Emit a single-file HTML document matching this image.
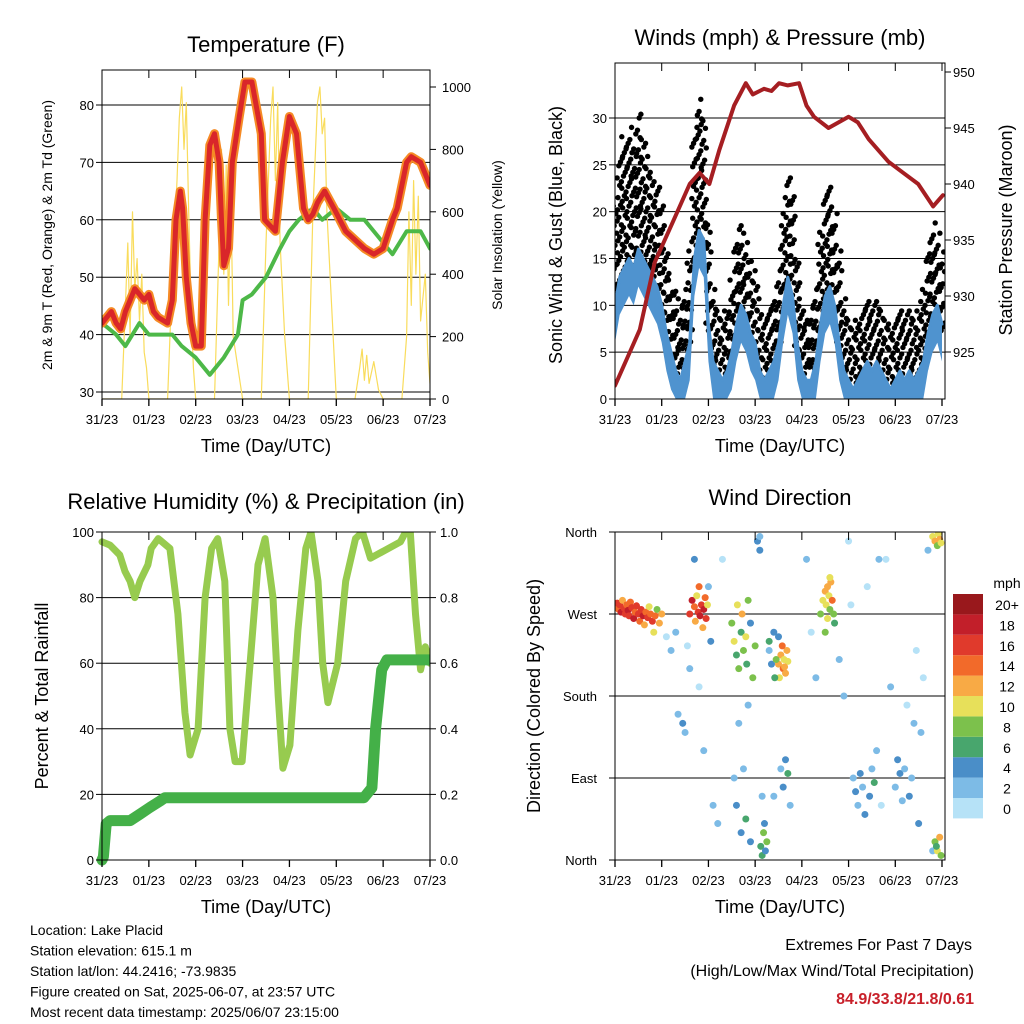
<!DOCTYPE html>
<html><head><meta charset="utf-8"><style>
body{margin:0;background:#fff}
svg{display:block;font-family:"Liberation Sans",Arial,sans-serif}
</style></head><body>
<svg id="s" width="1024" height="1024" viewBox="0 0 1024 1024"></svg>
<script>
// ---- data ----
const dayLabels=["31/23","01/23","02/23","03/23","04/23","05/23","06/23","07/23"];
const tempT=[0,0.1,0.2,0.3,0.4,0.5,0.6,0.7,0.8,0.9,1.0,1.1,1.2,1.4,1.45,1.5,1.58,1.67,1.72,1.8,1.9,2.0,2.07,2.12,2.2,2.3,2.4,2.5,2.55,2.6,2.7,2.78,2.93,3.05,3.2,3.4,3.47,3.7,3.85,4.0,4.15,4.3,4.4,4.5,4.6,4.75,4.95,5.2,5.6,5.8,6.0,6.2,6.3,6.5,6.6,6.8,6.9,7.0];
const tempV=[42,43,44,42,41,44,46,48,47,46,47,44,43,42,44,46,60,65,62,50,42,38,38,38,60,73,75,70,60,52,55,70,78,84,84,75,60,58,70,78,75,62,60,61,63,65,62,58,55,54,55,60,62,70,71,70,68,66];
const dewT=[0,0.3,0.5,0.8,1.0,1.5,1.7,2.0,2.3,2.6,2.9,3.0,3.2,3.5,3.8,4.0,4.2,4.5,4.7,5.0,5.3,5.6,5.9,6.1,6.2,6.5,6.8,7.0];
const dewV=[42,40,38,42,40,40,38,36,33,36,40,46,47,50,55,58,60,62,60,62,60,60,57,55,54,58,58,55];
const solarT=[0,0.42,0.5,0.55,0.6,0.65,0.7,0.75,0.8,0.85,0.9,0.95,1.0,1.4,1.5,1.6,1.65,1.7,1.75,1.8,1.85,1.9,1.95,2.0,2.4,2.5,2.55,2.6,2.65,2.7,2.75,2.8,2.9,3.0,3.4,3.5,3.6,3.65,3.7,3.75,3.8,3.9,4.0,4.4,4.5,4.6,4.65,4.7,4.75,4.8,4.9,5.0,5.4,5.5,5.55,5.6,5.65,5.7,5.8,5.9,6.0,6.4,6.5,6.55,6.6,6.65,6.7,6.75,6.8,6.9,6.95,7.0];
const solarV=[0,0,300,500,200,600,350,450,250,400,150,100,0,0,400,700,900,1000,800,950,600,300,100,0,0,500,800,400,750,300,650,200,100,0,0,500,900,1000,700,950,500,200,0,0,600,950,1000,850,900,600,300,0,0,100,160,60,140,50,120,30,0,0,200,600,300,700,400,650,250,400,150,50];
const windT=[];for(let i=0;i<=70;i++)windT.push(i/10);
const windV=[10,13,14,15,14,16,15,14,13,12,10,7,5,3,2,4,6,15,18,17,8,4,3,2,3,5,8,10,9,7,6,3,2,3,4,6,10,13,11,6,3,2,2,4,8,11,12,10,6,3,2,1,2,3,4,3,4,3,2,1,2,3,2,3,2,3,4,7,9,10,8];
const gustV=[17,22,24,25,23,27,24,22,20,19,17,12,9,8,6,8,12,25,28,26,15,8,6,5,6,9,13,15,13,11,10,7,5,6,7,10,16,20,18,11,7,5,6,8,14,18,19,16,12,7,5,4,5,6,7,6,7,6,5,4,5,6,5,6,5,6,8,12,15,14,12];
const presT=[0,0.32,0.53,0.85,1.28,1.6,1.81,2.02,2.23,2.55,2.8,2.95,3.19,3.35,3.51,3.7,3.94,4.1,4.26,4.57,5.0,5.2,5.43,5.85,6.17,6.49,6.81,7.02];
const presV=[922,925,927,933,937,940,941,940,943,947,949,948,948.5,948.3,949,948.8,949,947,946,945,946,945.5,944,942,941,940,938,939];
const rhT=[0,0.17,0.38,0.49,0.6,0.7,0.81,0.98,1.05,1.2,1.45,1.62,1.77,1.88,2.05,2.2,2.34,2.47,2.62,2.73,2.84,2.99,3.16,3.33,3.48,3.65,3.76,3.86,4.01,4.18,4.35,4.46,4.61,4.71,4.82,5.03,5.2,5.41,5.56,5.73,6.37,6.48,6.58,6.69,6.8];
const rhV=[97,96,93,88,85,80,85,90,95,98,95,75,45,32,40,80,95,98,85,40,30,30,60,90,98,80,50,28,35,70,95,100,85,60,48,60,85,98,100,92,97,100,100,75,58];
const rhT2=[6.9,7.0];const rhV2=[65,60];
const rainT=[0,0.03,0.09,0.17,0.6,0.81,1.02,1.24,1.34,5.59,5.76,5.84,5.97,6.08,7.0];
const rainV=[0,0.01,0.11,0.12,0.12,0.14,0.16,0.18,0.19,0.19,0.22,0.40,0.58,0.61,0.61];
const dirT=[0.02,0.05,0.08,0.1,0.13,0.16,0.2,0.22,0.25,0.28,0.3,0.33,0.36,0.4,0.43,0.46,0.5,0.53,0.56,0.6,0.63,0.66,0.7,0.73,0.76,0.8,0.83,0.86,0.9,0.95,1.0,
1.6,1.65,1.7,1.72,1.75,1.78,1.8,1.82,1.85,1.88,1.9,1.93,1.95,1.98,
1.1,1.2,1.3,1.35,1.45,1.5,1.55,1.6,1.7,1.8,1.9,2.0,2.05,2.1,2.2,2.3,
2.5,2.55,2.6,2.62,2.65,2.7,2.72,2.75,2.8,2.82,2.85,2.9,2.95,3.0,
2.55,2.6,2.65,2.7,2.75,2.8,2.85,2.9,3.05,3.1,3.12,3.15,3.18,3.2,3.22,3.25,3.1,3.15,
3.5,3.55,3.6,3.62,3.65,3.68,3.7,3.58,3.52,3.63,
3.3,3.35,3.4,3.42,3.45,3.5,3.55,3.6,3.65,3.7,3.75,3.3,3.4,
4.4,4.45,4.5,4.52,4.55,4.58,4.6,4.62,4.65,4.68,4.7,4.5,4.55,4.6,
4.1,4.2,4.3,4.8,4.9,5.0,5.1,5.15,5.2,5.25,5.3,5.4,5.45,5.5,5.55,5.6,5.7,5.8,5.9,6.0,6.05,6.1,6.15,6.2,6.25,6.3,6.35,6.4,6.5,6.6,6.7,6.8,5.05,5.35,5.65,6.45,6.55,
6.8,6.85,6.9,6.92,6.95,6.98,6.85,6.9,6.95,6.98,6.88];
const dirV=[278,282,275,280,272,285,276,270,280,274,268,283,277,265,272,279,270,262,275,268,258,272,266,278,270,262,250,268,275,260,270,
270,285,278,262,290,272,300,268,280,255,275,288,265,280,
245,230,250,160,150,140,235,210,330,190,120,300,240,60,40,330,
260,240,225,280,210,250,270,230,245,215,285,260,200,235,
90,60,150,30,100,45,170,20,350,340,15,5,30,40,10,20,355,70,
215,225,210,220,205,230,218,235,200,212,
230,215,250,200,220,245,100,80,110,95,60,240,70,
270,285,295,280,300,290,275,305,285,270,260,250,265,310,
330,250,200,220,180,350,90,75,60,95,80,300,70,100,85,120,60,330,190,80,110,95,65,100,170,70,90,150,40,200,340,10,280,50,330,230,140,
355,350,345,358,352,348,20,10,25,5,15];
const dirS=[14,16,15,17,18,13,16,17,15,18,16,14,17,19,15,16,17,14,16,18,12,15,17,10,14,16,11,15,9,13,12,
16,18,15,12,10,17,14,19,16,13,18,15,17,11,
1,2,3,3,4,2,1,2,5,1,3,2,4,3,2,1,
8,10,7,11,9,6,12,8,10,7,9,5,8,9,
3,4,2,5,3,6,2,4,5,4,7,6,8,5,4,9,3,2,
12,13,14,11,13,12,10,15,11,13,
3,5,4,6,8,4,3,5,4,6,2,7,3,
9,11,12,10,13,11,8,12,14,9,7,8,10,11,
2,1,3,3,2,1,3,4,2,5,3,1,4,3,6,2,1,1,2,3,4,5,3,2,1,4,3,2,4,1,2,3,1,5,2,1,3,
10,12,9,11,13,10,8,10,12,9,7];
const spdColors=["#b6e2f7","#7dbbe6","#4a8ec8","#48a66d","#7cc14c","#e7e05a","#f8aa45","#f26a2a","#e03a2c","#c21f2a","#99181c"];
const spdLabels=["0","2","4","6","8","10","12","14","16","18","20+"];

// ---- helpers ----
const NS="http://www.w3.org/2000/svg",S=document.getElementById('s');
function el(tag,a,p){const e=document.createElementNS(NS,tag);for(const k in a)e.setAttribute(k,a[k]);(p||S).appendChild(e);return e;}
function txt(x,y,s,size,anchor,name,extra){const t=el('text',Object.assign({x:x,y:y,'font-size':size,'text-anchor':anchor||'middle',fill:'#000'},extra||{}));t.textContent=s;

return t;}
function lin(d0,d1,r0,r1){return v=>r0+(v-d0)/(d1-d0)*(r1-r0);}
function poly(xs,ys,fx,fy,attrs,name){const pts=xs.map((t,i)=>fx(t).toFixed(1)+','+fy(ys[i]).toFixed(1)).join(' ');
const p=el('polyline',Object.assign({points:pts,fill:'none','stroke-linejoin':'round','stroke-linecap':'round'},attrs));

return p;}
function frame(x0,y0,x1,y1,name){const r=el('rect',{x:x0,y:y0,width:x1-x0,height:y1-y0,fill:'none',stroke:'#000','stroke-width':1});

}
function xAxis(x0,x1,yt,yb,fx,name){for(let i=0;i<8;i++){const x=fx(i);el('line',{x1:x,x2:x,y1:yb,y2:yb+7,stroke:'#000','stroke-width':1.3});
el('line',{x1:x,x2:x,y1:yt,y2:yt+8,stroke:'#000'});
txt(x,yb+25,dayLabels[i],13,'middle',name+'-tick-label');}
txt((x0+x1)/2,yb+53,'Time (Day/UTC)',18,'middle',name+'-x-axis-title');}
function grid(x0,x1,y,name){const l=el('line',{x1:x0,x2:x1,y1:y,y2:y,stroke:'#000','stroke-width':1});

}

// ===== Panel 1: Temperature =====
{const X0=102,X1=430,Y0=70,Y1=399;const fx=lin(0,7,X0,X1),fy=lin(30,80,392,105),fs=lin(0,1000,399,87);
const cp=el('clipPath',{id:'c1'});el('rect',{x:X0,y:Y0,width:X1-X0,height:Y1-Y0},cp);
[30,40,50,60,70,80].forEach(v=>grid(X0,X1,fy(v),'temp-gridline'));
const g=el('g',{'clip-path':'url(#c1)'});
g.appendChild(poly(solarT,solarV,fx,fs,{stroke:'#f9dc5c','stroke-width':1.2},'solar-insolation-line'));
g.appendChild(poly(dewT,dewV,fx,fy,{stroke:'#4db848','stroke-width':4},'dewpoint-line'));
g.appendChild(poly(tempT,tempV,fx,fy,{stroke:'#f58a25','stroke-width':9},'temp-9m-line'));
g.appendChild(poly(tempT,tempV,fx,fy,{stroke:'#d9262a','stroke-width':5},'temp-2m-line'));
frame(X0,Y0,X1,Y1,'temp-plot-frame');
[30,40,50,60,70,80].forEach(v=>{const y=fy(v);el('line',{x1:X0-6,x2:X0,y1:y,y2:y,stroke:'#000'});txt(X0-8,y+5,String(v),13,'end','temp-y-tick-label');});
[0,200,400,600,800,1000].forEach(v=>{const y=fs(v);el('line',{x1:X1,x2:X1+6,y1:y,y2:y,stroke:'#000'});txt(X1+12,y+5,String(v),13,'start','solar-y-tick-label');});
xAxis(X0,X1,Y0,Y1,fx,'temp');
txt(266,52,'Temperature (F)',22,'middle','temp-chart-title');
txt(0,0,'2m & 9m T (Red, Orange) & 2m Td (Green)',14,'middle','temp-y-axis-title',{transform:'translate(52,235) rotate(-90)'});
txt(0,0,'Solar Insolation (Yellow)',14,'middle','solar-y-axis-title',{transform:'translate(502,235) rotate(-90)'});}

// ===== Panel 2: Winds & Pressure =====
{const X0=615,X1=945,Y0=63,Y1=399;const fx=lin(0,7,X0,X1-3),fy=lin(0,30,399,118),fp=lin(925,950,352,72);
const cp=el('clipPath',{id:'c2'});el('rect',{x:X0,y:Y0,width:X1-X0,height:Y1-Y0},cp);
[5,10,15,20,25,30].forEach(v=>grid(X0,X1,fy(v),'wind-gridline'));
const g=el('g',{'clip-path':'url(#c2)'});
for(let i=0;i<windT.length;i++){const w=windV[i],gu=gustV[i];let n=0;
for(let v=Math.max(0,w-1);v<=gu+4;v+=0.7){n++;const k=(n*37+i*13)%7;const c=el('circle',{cx:fx(windT[i])+(k-3)*0.85,cy:fy(v+((n*5)%3-1)*0.3),r:2.7,fill:'#000'},g);

}}
const lo=windV.map(v=>Math.max(0,v-4));
const pts=windT.map((t,i)=>fx(t)+','+fy(windV[i])).concat(windT.slice().reverse().map((t,i)=>fx(t)+','+fy(lo[lo.length-1-i]))).join(' ');
const a=el('polygon',{points:pts,fill:'#4f93cf'},g);
g.appendChild(poly(windT,windV,fx,fy,{stroke:'#4f93cf','stroke-width':3},'sonic-wind-line'));
g.appendChild(poly(presT,presV,fx,fp,{stroke:'#a51e22','stroke-width':4},'pressure-line'));
frame(X0,Y0,X1,Y1,'wind-plot-frame');
[0,5,10,15,20,25,30].forEach(v=>{const y=fy(v);el('line',{x1:X0-6,x2:X0,y1:y,y2:y,stroke:'#000'});txt(X0-8,y+5,String(v),13,'end','wind-y-tick-label');});
[925,930,935,940,945,950].forEach(v=>{const y=fp(v);el('line',{x1:X1,x2:X1+6,y1:y,y2:y,stroke:'#000'});txt(X1+8,y+5,String(v),13,'start','pressure-y-tick-label');});
xAxis(X0,X1,Y0,Y1,fx,'wind');
txt(780,45,'Winds (mph) & Pressure (mb)',22,'middle','wind-chart-title');
txt(0,0,'Sonic Wind & Gust (Blue, Black)',18,'middle','wind-y-axis-title',{transform:'translate(562,235) rotate(-90)'});
txt(0,0,'Station Pressure (Maroon)',18,'middle','pressure-y-axis-title',{transform:'translate(1012,230) rotate(-90)'});}

// ===== Panel 3: RH & Precip =====
{const X0=102,X1=430,Y0=532,Y1=860;const fx=lin(0,7,X0,X1),fy=lin(0,100,860,532),fr=lin(0,1,860,532);
const cp=el('clipPath',{id:'c3'});el('rect',{x:X0-6,y:Y0,width:X1-X0+6,height:Y1-Y0+6},cp);
[20,40,60,80].forEach(v=>grid(X0,X1,fy(v),'rh-gridline'));
const g=el('g',{'clip-path':'url(#c3)'});
g.appendChild(poly(rhT.concat(rhT2),rhV.concat(rhV2),fx,fy,{stroke:'#97cb4f','stroke-width':7},'relative-humidity-line'));
g.appendChild(poly(rainT,rainV,fx,fr,{stroke:'#44b048','stroke-width':11},'total-rainfall-line'));
frame(X0,Y0,X1,Y1,'rh-plot-frame');
[0,20,40,60,80,100].forEach(v=>{const y=fy(v);el('line',{x1:X0-6,x2:X0,y1:y,y2:y,stroke:'#000'});txt(X0-8,y+5,String(v),13,'end','rh-y-tick-label');});
[0,0.2,0.4,0.6,0.8,1.0].forEach(v=>{const y=fr(v);el('line',{x1:X1,x2:X1+6,y1:y,y2:y,stroke:'#000'});txt(X1+10,y+5,v.toFixed(1),13,'start','rain-y-tick-label');});
xAxis(X0,X1,Y0,Y1,fx,'rh');
txt(266,509,'Relative Humidity (%) & Precipitation (in)',22,'middle','rh-chart-title');
txt(0,0,'Percent & Total Rainfall',18,'middle','rh-y-axis-title',{transform:'translate(48,696) rotate(-90)'});}

// ===== Panel 4: Wind direction =====
{const X0=615,X1=945,Y0=532,Y1=860;const fx=lin(0,7,X0,X1-3),fy=lin(0,360,860,532);
[90,180,270].forEach(v=>grid(X0,X1,fy(v),'direction-gridline'));
const cp=el('clipPath',{id:'c4'});el('rect',{x:X0,y:Y0,width:X1-X0,height:Y1-Y0},cp);
const g=el('g',{'clip-path':'url(#c4)'});
for(let i=0;i<dirT.length;i++){const ci=Math.min(10,Math.floor(dirS[i]/2));
const c=el('circle',{cx:fx(dirT[i]),cy:fy(dirV[i]),r:3.5,fill:spdColors[ci]},g);

}
frame(X0,Y0,X1,Y1,'direction-plot-frame');
const dn=['North','East','South','West','North'];
[0,90,180,270,360].forEach((v,i)=>{const y=fy(v);el('line',{x1:X0-6,x2:X0,y1:y,y2:y,stroke:'#000'});txt(X0-18,y+5,dn[i],13,'end','direction-tick-label');});
xAxis(X0,X1,Y0,Y1,fx,'direction');
txt(780,505,'Wind Direction',22,'middle','direction-chart-title');
txt(0,0,'Direction (Colored By Speed)',18,'middle','direction-y-axis-title',{transform:'translate(540,696) rotate(-90)'});
txt(1007,588,'mph',14,'middle','colorbar-title');
for(let i=0;i<11;i++){const y=594+(10-i)*20.4;const r=el('rect',{x:953,y:y,width:30,height:20.4,fill:spdColors[i]});


txt(1007,y+16,spdLabels[i],14,'middle','colorbar-label');}}

// ===== Footer =====
['Location: Lake Placid','Station elevation: 615.1 m','Station lat/lon: 44.2416; -73.9835','Figure created on Sat, 2025-06-07, at 23:57 UTC','Most recent data timestamp: 2025/06/07 23:15:00'].forEach((s,i)=>txt(30,935+i*20.5,s,14,'start','station-info-line'));
txt(972,950,'Extremes For Past 7 Days',16,'end','extremes-title');
txt(974,976,'(High/Low/Max Wind/Total Precipitation)',16,'end','extremes-subtitle');
txt(974,1004,'84.9/33.8/21.8/0.61',16,'end','extremes-values',{fill:'#c8202a','font-weight':'bold'});
</script>
</body></html>
